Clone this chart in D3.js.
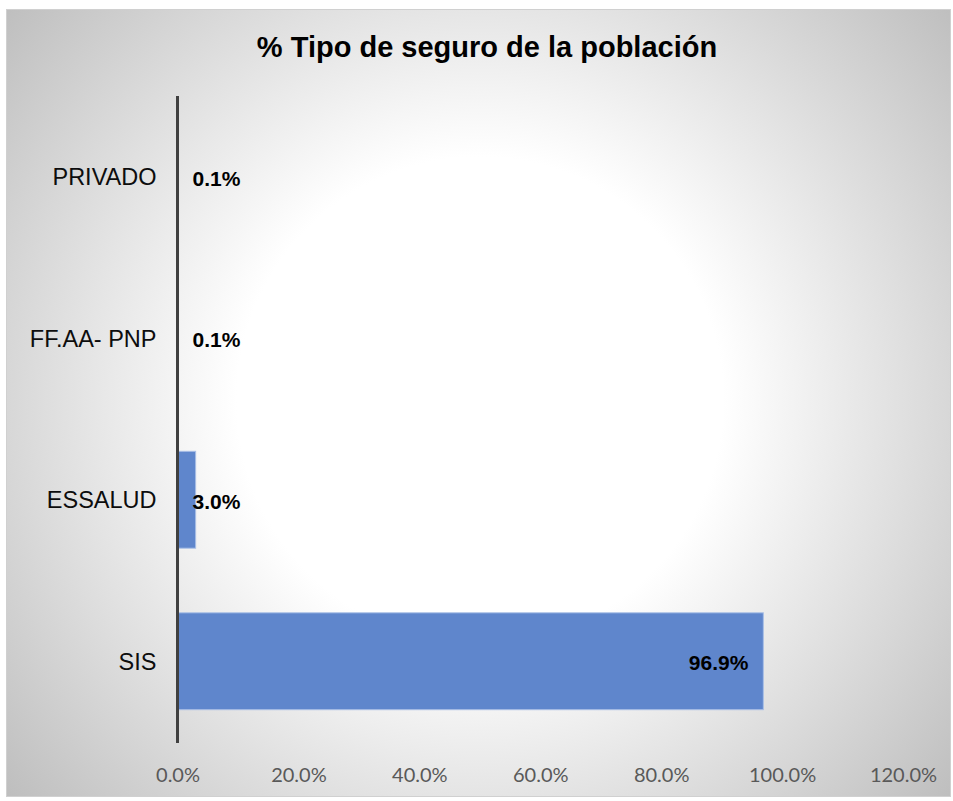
<!DOCTYPE html>
<html>
<head>
<meta charset="utf-8">
<script src="https://cdn.jsdelivr.net/npm/d3@7"></script>
<style>
  body { margin: 0; background: #fff; }
  svg { display: block; }
</style>
</head>
<body>
<svg id="chart" width="953" height="801"></svg>
<script>
var categories = ['PRIVADO', 'FF.AA- PNP', 'ESSALUD', 'SIS'];
var values = [0.001, 0.001, 0.030, 0.969];
var valueLabels = ['0.1%', '0.1%', '3.0%', '96.9%'];
var tickValues = [0, 0.2, 0.4, 0.6, 0.8, 1.0, 1.2];

var svg = d3.select('#chart');

// background of the chart area, radial grey-to-white like the original
var defs = svg.append('defs');
var grad = defs.append('radialGradient')
    .attr('id', 'bg')
    .attr('gradientUnits', 'userSpaceOnUse')
    .attr('cx', 480).attr('cy', 400).attr('r', 640);
grad.append('stop').attr('offset', '0%').attr('stop-color', '#ffffff');
grad.append('stop').attr('offset', '38%').attr('stop-color', '#ffffff');
grad.append('stop').attr('offset', '100%').attr('stop-color', '#bababa');

svg.append('rect')
    .attr('x', 6.5).attr('y', 9.5)
    .attr('width', 944).attr('height', 787)
    .attr('fill', 'url(#bg)')
    .attr('stroke', '#d0d0d0');

svg.append('text')
    .attr('x', 487).attr('y', 57)
    .attr('text-anchor', 'middle')
    .style('font-family', 'Liberation Sans, Arial, sans-serif')
    .style('font-weight', 'bold')
    .style('font-size', '29px')
    .attr('fill', '#000')
    .text('% Tipo de seguro de la población');

var x = d3.scaleLinear().domain([0, 1.2]).range([177.5, 903]);
var y = d3.scaleBand().domain(categories).range([96, 742]).paddingInner(0.4).paddingOuter(0.2);

// bars
svg.selectAll('rect.bar').data(values).enter().append('rect')
    .attr('class', 'bar')
    .attr('x', x(0))
    .attr('y', function (d, i) { return y(categories[i]); })
    .attr('width', function (d) { return x(d) - x(0); })
    .attr('height', y.bandwidth())
    .attr('fill', '#5f86cc')
    .attr('stroke', '#a9bfe6')
    .attr('stroke-width', 1);

// value labels: inside end if it fits, otherwise next to the axis
svg.selectAll('text.val').data(values).enter().append('text')
    .attr('class', 'val')
    .attr('x', function (d) { return d > 0.2 ? x(d) - 15 : x(0) + 15; })
    .attr('y', function (d, i) { return y(categories[i]) + y.bandwidth() / 2; })
    .attr('dy', '0.43em')
    .attr('text-anchor', function (d) { return d > 0.2 ? 'end' : 'start'; })
    .style('font-family', 'Liberation Sans, Arial, sans-serif')
    .style('font-weight', 'bold')
    .style('font-size', '21px')
    .attr('fill', '#000')
    .text(function (d, i) { return valueLabels[i]; });

// category axis
var yAxis = svg.append('g')
    .attr('transform', 'translate(' + x(0) + ',0)')
    .call(d3.axisLeft(y).tickSize(0).tickPadding(21));
yAxis.select('.domain').remove();
yAxis.selectAll('text')
    .attr('dy', '0.36em')
    .style('font-family', 'Liberation Sans, Arial, sans-serif')
    .style('font-size', '23.5px')
    .attr('fill', '#0d0d0d');

svg.append('line')
    .attr('x1', x(0)).attr('x2', x(0))
    .attr('y1', 96).attr('y2', 743)
    .attr('stroke', '#404040')
    .attr('stroke-width', 3);

// value axis labels only
var xAxis = svg.append('g')
    .attr('transform', 'translate(0,742)')
    .call(d3.axisBottom(x).tickValues(tickValues).tickSize(0).tickPadding(26)
        .tickFormat(d3.format('.1%')));
xAxis.select('.domain').remove();
xAxis.selectAll('text')
    .style('font-family', 'Lato, Carlito, Calibri, sans-serif')
    .style('font-size', '20px')
    .attr('fill', '#595959');
</script>
</body>
</html>
